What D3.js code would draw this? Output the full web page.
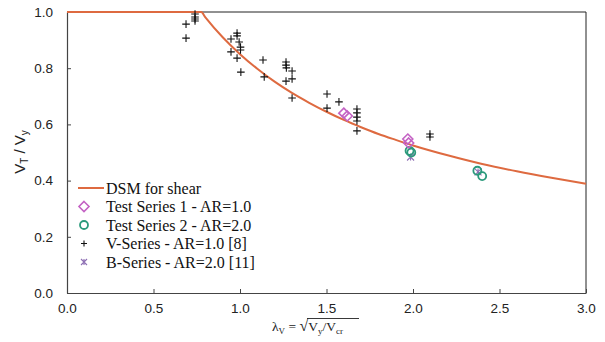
<!DOCTYPE html>
<html><head><meta charset="utf-8">
<script src="https://cdn.jsdelivr.net/npm/d3@7"></script>
<style>
body{margin:0;background:#fff;}
svg{display:block;}
</style></head>
<body><svg id="c" width="605" height="342"></svg>
<script>
// ---- data ----
const dsmLambda = [0, 0.776, 0.8, 0.9, 1.0, 1.1, 1.2, 1.3, 1.4, 1.5, 1.6, 1.7, 1.8, 1.9, 2.0, 2.2, 2.4, 2.6, 2.8, 3.0];
const dsmValue  = [1, 1.0, 0.981, 0.910, 0.850, 0.798, 0.752, 0.712, 0.677, 0.645, 0.616, 0.590, 0.566, 0.545, 0.525, 0.490, 0.459, 0.433, 0.410, 0.389];

const ts1Lambda = [1.60, 1.62, 1.97, 1.975];
const ts1Value  = [0.640, 0.630, 0.548, 0.534];

const ts2Lambda = [1.98, 1.99, 2.372, 2.40];
const ts2Value  = [0.506, 0.500, 0.435, 0.416];

const vLambda = [0.688, 0.688, 0.740, 0.740, 0.740, 0.740,
  0.948, 0.948, 0.983, 0.983, 0.983, 0.995, 1.003, 1.003, 1.005,
  1.133, 1.140, 1.266, 1.266, 1.268, 1.266, 1.301, 1.301, 1.301,
  1.503, 1.503, 1.572, 1.676, 1.676, 1.676, 1.676, 1.676, 2.098, 2.098];
const vValue = [0.957, 0.907, 0.993, 0.982, 0.975, 0.968,
  0.904, 0.858, 0.925, 0.915, 0.836, 0.893, 0.875, 0.865, 0.786,
  0.829, 0.769, 0.822, 0.811, 0.801, 0.754, 0.790, 0.762, 0.694,
  0.708, 0.658, 0.680, 0.655, 0.641, 0.626, 0.612, 0.577, 0.566, 0.555];

const bLambda = [1.986, 2.376];
const bValue  = [0.484, 0.431];

const xTicks = [0, 0.5, 1.0, 1.5, 2.0, 2.5, 3.0];
const yTicks = [0, 0.2, 0.4, 0.6, 0.8, 1.0];

const legendLabels = ["DSM for shear", "Test Series 1 - AR=1.0", "Test Series 2 - AR=2.0", "V-Series - AR=1.0 [8]", "B-Series - AR=2.0 [11]"];

// ---- drawing ----
const colDSM = "#de6a40", colTS1 = "#c462c4", colTS2 = "#2b9a7c", colV = "#111", colB = "#8e70b4";
const svg = d3.select("#c");
const L = 67, R = 586, T = 12, B = 293;
const x = d3.scaleLinear().domain([0, 3]).range([L, R]);
const y = d3.scaleLinear().domain([0, 1]).range([B, T]);

// frame top/right
svg.append("path").attr("d", `M${x(0)},${y(1)}H${x(3)}V${y(0)}`).attr("fill", "none").attr("stroke", "#222").attr("stroke-width", 1);

const xa = svg.append("g").attr("transform", `translate(0,${B})`)
  .call(d3.axisBottom(x).tickValues(xTicks).tickFormat(d3.format(".1f")).tickSizeInner(-4).tickSizeOuter(0).tickPadding(10));
const ya = svg.append("g").attr("transform", `translate(${L},0)`)
  .call(d3.axisLeft(y).tickValues(yTicks).tickFormat(d3.format(".1f")).tickSizeInner(-4).tickSizeOuter(0).tickPadding(14));
[xa, ya].forEach(a => {
  a.select(".domain").attr("stroke", "#444").attr("stroke-width", 1.2);
  a.selectAll(".tick line").attr("stroke", "#444");
  a.selectAll("text").attr("font-family", "Liberation Sans, Arial, sans-serif").attr("font-size", 13.5).attr("fill", "#222");
});

// DSM curve
svg.append("path")
  .datum(dsmLambda.map((l, i) => [l, dsmValue[i]]))
  .attr("d", d3.line().x(d => x(d[0])).y(d => y(d[1])).curve(d3.curveMonotoneX))
  .attr("fill", "none").attr("stroke", colDSM).attr("stroke-width", 2);

function plus(g, cx, cy, s, col, w) {
  g.append("path").attr("d", `M${cx - s},${cy}H${cx + s}M${cx},${cy - s}V${cy + s}`).attr("stroke", col).attr("stroke-width", w).attr("fill", "none");
}
function cross(g, cx, cy, s, col, w) {
  g.append("path").attr("d", `M${cx - s},${cy - s}L${cx + s},${cy + s}M${cx + s},${cy - s}L${cx - s},${cy + s}M${cx},${cy - s}V${cy + s}`).attr("stroke", col).attr("stroke-width", w).attr("fill", "none");
}
function diamond(g, cx, cy, s, col, w) {
  g.append("path").attr("d", `M${cx},${cy - s}L${cx + s},${cy}L${cx},${cy + s}L${cx - s},${cy}Z`).attr("stroke", col).attr("stroke-width", w).attr("fill", "none");
}
function circle(g, cx, cy, r, col, w) {
  g.append("circle").attr("cx", cx).attr("cy", cy).attr("r", r).attr("stroke", col).attr("stroke-width", w).attr("fill", "none");
}

const pts = svg.append("g");
vLambda.forEach((l, i) => plus(pts, x(l), y(vValue[i]), 3.8, colV, 1.1));
bLambda.forEach((l, i) => cross(pts, x(l), y(bValue[i]), 3.5, colB, 1.1));
ts2Lambda.forEach((l, i) => circle(pts, x(l), y(ts2Value[i]), 4, colTS2, 1.8));
ts1Lambda.forEach((l, i) => diamond(pts, x(l), y(ts1Value[i]), 5, colTS1, 1.6));

// legend
const lg = svg.append("g");
const ly0 = 188, ldy = 18.5, lsx = 84, ltx = 106;
legendLabels.forEach((t, i) => {
  const yy = ly0 + i * ldy;
  if (i === 0) lg.append("line").attr("x1", 78).attr("x2", 104).attr("y1", yy).attr("y2", yy).attr("stroke", colDSM).attr("stroke-width", 2);
  if (i === 1) diamond(lg, lsx, yy, 5, colTS1, 1.6);
  if (i === 2) circle(lg, lsx, yy, 4, colTS2, 1.8);
  if (i === 3) plus(lg, lsx, yy, 3, colV, 1.1);
  if (i === 4) cross(lg, lsx, yy, 3, colB, 1.1);
  lg.append("text").attr("x", ltx).attr("y", yy).attr("dy", "0.35em")
    .attr("font-family", "Liberation Serif, Times New Roman, serif").attr("font-size", 16).attr("fill", "#111").text(t);
});

// y title
const yt = svg.append("text").attr("transform", "translate(25,152) rotate(-90)")
  .attr("text-anchor", "middle").attr("font-family", "Liberation Sans, Arial, sans-serif").attr("font-size", 15).attr("fill", "#222");
yt.append("tspan").text("V");
yt.append("tspan").attr("font-size", 10).attr("dy", 3).text("T");
yt.append("tspan").attr("dy", -3).text(" / V");
yt.append("tspan").attr("font-size", 10).attr("dy", 3).text("y");

// x title
const xt = svg.append("text").attr("x", 272).attr("y", 331)
  .attr("font-family", "Liberation Serif, Times New Roman, serif").attr("font-size", 13.5).attr("fill", "#222");
xt.append("tspan").text("λ");
xt.append("tspan").attr("font-size", 9).attr("dy", 3).text("V");
xt.append("tspan").attr("dy", -3).text(" = ");
xt.append("tspan").attr("font-size", 16).text("√");
xt.append("tspan").text("V");
xt.append("tspan").attr("font-size", 9).attr("dy", 3).text("y");
xt.append("tspan").attr("dy", -3).text("/V");
xt.append("tspan").attr("font-size", 9).attr("dy", 3).text("cr");
svg.append("line").attr("x1", 307).attr("x2", 359).attr("y1", 318.5).attr("y2", 318.5).attr("stroke", "#222").attr("stroke-width", 0.9);
</script></body></html>
